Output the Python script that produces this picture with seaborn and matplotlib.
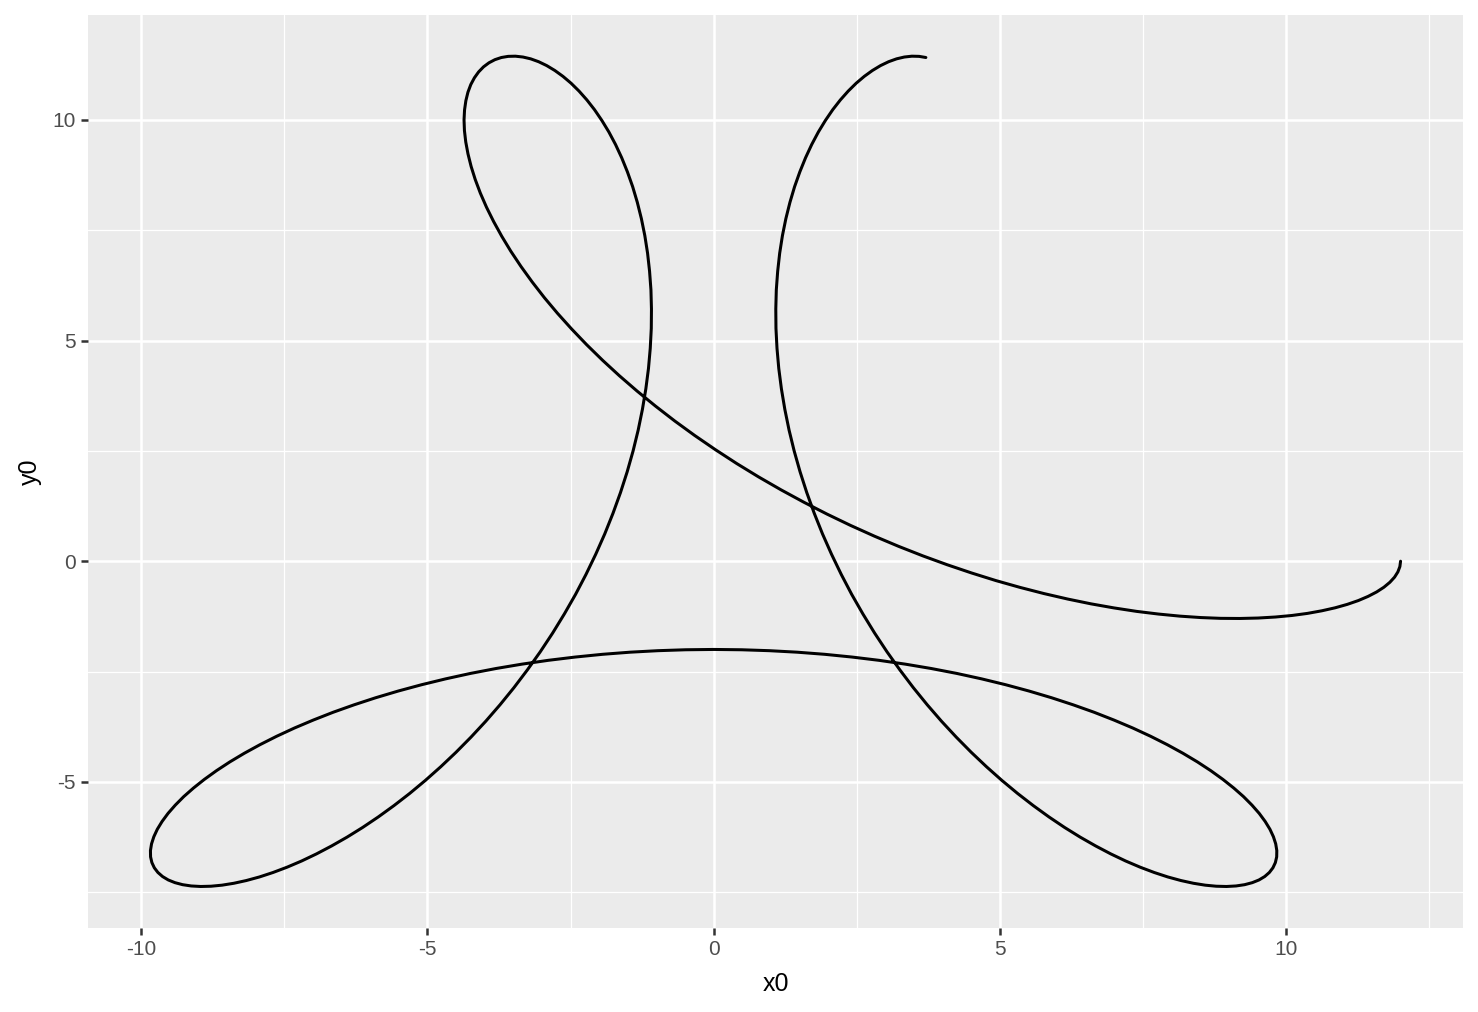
import numpy as np
import pandas as pd
import seaborn as sns
import matplotlib.pyplot as plt
from matplotlib.ticker import MultipleLocator

# curve points, in drawing order (start at the right, end at the top)
x0 = [12.000, 11.988, 11.953, 11.895, 11.813, 11.709, 11.582, 11.432, 11.262, 11.070,
      10.857, 10.624, 10.373, 10.103, 9.815, 9.511, 9.191, 8.856, 8.507, 8.145,
      7.772, 7.388, 6.995, 6.594, 6.186, 5.772, 5.353, 4.930, 4.506, 4.081,
      3.656, 3.232, 2.811, 2.393, 1.981, 1.575, 1.176, 0.784, 0.402, 0.031,
      -0.330, -0.679, -1.015, -1.338, -1.647, -1.941, -2.219, -2.481, -2.728, -2.957,
      -3.169, -3.364, -3.542, -3.701, -3.843, -3.968, -4.075, -4.164, -4.236, -4.291,
      -4.330, -4.353, -4.360, -4.351, -4.328, -4.292, -4.242, -4.179, -4.105, -4.020,
      -3.925, -3.821, -3.708, -3.589, -3.463, -3.331, -3.196, -3.057, -2.916, -2.774,
      -2.632, -2.490, -2.351, -2.214, -2.081, -1.953, -1.830, -1.714, -1.606, -1.506,
      -1.414, -1.333, -1.262, -1.202, -1.154, -1.119, -1.095, -1.086, -1.089, -1.107,
      -1.138, -1.184, -1.244, -1.318, -1.407, -1.510, -1.627, -1.758, -1.902, -2.060,
      -2.230, -2.412, -2.607, -2.812, -3.028, -3.254, -3.488, -3.731, -3.981, -4.238,
      -4.500, -4.767, -5.037, -5.309, -5.584, -5.858, -6.132, -6.404, -6.673, -6.937,
      -7.197, -7.450, -7.697, -7.934, -8.163, -8.381, -8.587, -8.780, -8.960, -9.126,
      -9.276, -9.410, -9.527, -9.627, -9.708, -9.770, -9.813, -9.836, -9.838, -9.819,
      -9.779, -9.718, -9.635, -9.531, -9.404, -9.257, -9.087, -8.896, -8.684, -8.451,
      -8.198, -7.925, -7.633, -7.322, -6.992, -6.646, -6.282, -5.903, -5.509, -5.101,
      -4.680, -4.247, -3.803, -3.349, -2.887, -2.417, -1.941, -1.460, -0.976, -0.489,
      0.000,
      0.489, 0.976, 1.460, 1.941, 2.417, 2.887, 3.349, 3.803, 4.247, 4.680,
      5.101, 5.509, 5.903, 6.282, 6.646, 6.992, 7.322, 7.633, 7.925, 8.198,
      8.451, 8.684, 8.896, 9.087, 9.257, 9.404, 9.531, 9.635, 9.718, 9.779,
      9.819, 9.838, 9.836, 9.813, 9.770, 9.708, 9.627, 9.527, 9.410, 9.276,
      9.126, 8.960, 8.780, 8.587, 8.381, 8.163, 7.934, 7.697, 7.450, 7.197,
      6.937, 6.673, 6.404, 6.132, 5.858, 5.584, 5.309, 5.037, 4.767, 4.500,
      4.238, 3.981, 3.731, 3.488, 3.254, 3.028, 2.812, 2.607, 2.412, 2.230,
      2.060, 1.902, 1.758, 1.627, 1.510, 1.407, 1.318, 1.244, 1.184, 1.138,
      1.107, 1.089, 1.086, 1.095, 1.119, 1.154, 1.202, 1.262, 1.333, 1.414,
      1.506, 1.606, 1.714, 1.830, 1.953, 2.081, 2.214, 2.351, 2.490, 2.632,
      2.774, 2.916, 3.057, 3.196, 3.331, 3.463, 3.589, 3.708]
y0 = [0.000, -0.122, -0.243, -0.362, -0.478, -0.590, -0.697, -0.798, -0.892, -0.978,
      -1.056, -1.124, -1.183, -1.230, -1.265, -1.288, -1.298, -1.295, -1.277, -1.245,
      -1.198, -1.137, -1.059, -0.967, -0.858, -0.734, -0.594, -0.439, -0.267, -0.081,
      0.120, 0.336, 0.566, 0.810, 1.067, 1.337, 1.618, 1.911, 2.214, 2.527,
      2.848, 3.177, 3.514, 3.856, 4.203, 4.554, 4.907, 5.262, 5.618, 5.972,
      6.326, 6.676, 7.022, 7.362, 7.696, 8.022, 8.340, 8.647, 8.944, 9.229,
      9.500, 9.757, 10.000, 10.226, 10.435, 10.626, 10.800, 10.953, 11.087, 11.201,
      11.293, 11.364, 11.413, 11.439, 11.443, 11.424, 11.383, 11.318, 11.230, 11.119,
      10.986, 10.830, 10.652, 10.452, 10.231, 9.988, 9.726, 9.443, 9.142, 8.822,
      8.485, 8.131, 7.762, 7.378, 6.980, 6.570, 6.148, 5.716, 5.274, 4.825,
      4.368, 3.906, 3.440, 2.970, 2.498, 2.026, 1.555, 1.085, 0.618, 0.156,
      -0.301, -0.752, -1.194, -1.628, -2.052, -2.464, -2.865, -3.253, -3.627, -3.986,
      -4.330, -4.658, -4.969, -5.262, -5.538, -5.795, -6.034, -6.253, -6.452, -6.632,
      -6.793, -6.933, -7.054, -7.155, -7.236, -7.298, -7.341, -7.365, -7.371, -7.359,
      -7.330, -7.284, -7.223, -7.145, -7.053, -6.948, -6.829, -6.699, -6.557, -6.405,
      -6.244, -6.074, -5.898, -5.715, -5.527, -5.335, -5.141, -4.944, -4.746, -4.548,
      -4.352, -4.158, -3.967, -3.780, -3.599, -3.423, -3.255, -3.094, -2.942, -2.799,
      -2.666, -2.543, -2.432, -2.333, -2.246, -2.172, -2.110, -2.062, -2.028, -2.007,
      -2.000,
      -2.007, -2.028, -2.062, -2.110, -2.172, -2.246, -2.333, -2.432, -2.543, -2.666,
      -2.799, -2.942, -3.094, -3.255, -3.423, -3.599, -3.780, -3.967, -4.158, -4.352,
      -4.548, -4.746, -4.944, -5.141, -5.335, -5.527, -5.715, -5.898, -6.074, -6.244,
      -6.405, -6.557, -6.699, -6.829, -6.948, -7.053, -7.145, -7.223, -7.284, -7.330,
      -7.359, -7.371, -7.365, -7.341, -7.298, -7.236, -7.155, -7.054, -6.933, -6.793,
      -6.632, -6.452, -6.253, -6.034, -5.795, -5.538, -5.262, -4.969, -4.658, -4.330,
      -3.986, -3.627, -3.253, -2.865, -2.464, -2.052, -1.628, -1.194, -0.752, -0.301,
      0.156, 0.618, 1.085, 1.555, 2.026, 2.498, 2.970, 3.440, 3.906, 4.368,
      4.825, 5.274, 5.716, 6.148, 6.570, 6.980, 7.378, 7.762, 8.131, 8.485,
      8.822, 9.142, 9.443, 9.726, 9.988, 10.231, 10.452, 10.652, 10.830, 10.986,
      11.119, 11.230, 11.318, 11.383, 11.424, 11.443, 11.439, 11.413]
assert len(x0) == len(y0)

x_ticks = [-10, -5, 0, 5, 10]
y_ticks = [-5, 0, 5, 10]

df = pd.DataFrame({"x0": x0, "y0": y0})

sns.set_theme(style="darkgrid")
plt.rcParams['font.family'] = ['Liberation Sans', 'DejaVu Sans']
plt.rcParams['axes.unicode_minus'] = False

fig, ax = plt.subplots(figsize=(1478 / 150, 1012 / 150), dpi=150)
fig.subplots_adjust(left=0.0595, right=0.9899, top=0.9855, bottom=0.083)
ax.set_facecolor('#EBEBEB')

sns.lineplot(data=df, x="x0", y="y0", sort=False, estimator=None,
             color="black", linewidth=1.45, ax=ax)

# ggplot-like 5% expansion
xr = max(x0) - min(x0)
yr = max(y0) - min(y0)
ax.set_xlim(min(x0) - 0.05 * xr, max(x0) + 0.05 * xr)
ax.set_ylim(min(y0) - 0.05 * yr, max(y0) + 0.05 * yr)

ax.set_xticks(x_ticks)
ax.set_yticks(y_ticks)
ax.xaxis.set_minor_locator(MultipleLocator(2.5))
ax.yaxis.set_minor_locator(MultipleLocator(2.5))
ax.grid(which='major', color='white', linewidth=1.2)
ax.grid(which='minor', color='white', linewidth=0.6)
ax.set_axisbelow(True)
for s in ax.spines.values():
    s.set_visible(False)

ax.tick_params(which='major', length=3.2, width=1.2, color='#333333',
               labelsize=10, labelcolor='#4D4D4D', pad=2.6, bottom=True, left=True)
ax.tick_params(which='minor', length=0, bottom=False, left=False)

ax.set_xlabel("x0", fontsize=12, color='black', labelpad=6)
ax.set_ylabel("y0", fontsize=12, color='black', labelpad=5)

fig.savefig("out.png", dpi=150, facecolor='white')
